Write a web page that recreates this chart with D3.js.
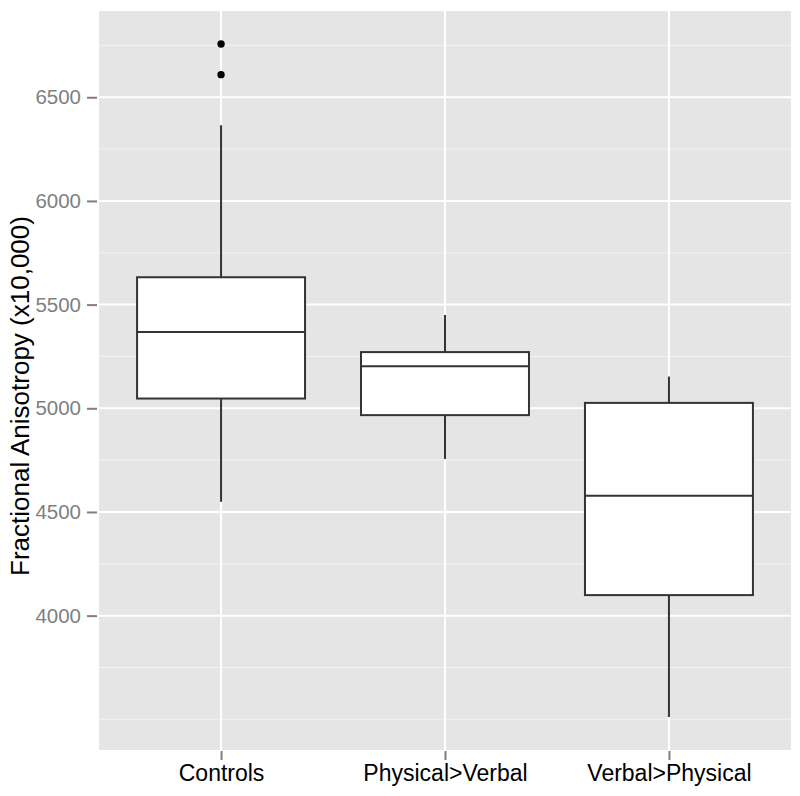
<!DOCTYPE html>
<html>
<head>
<meta charset="utf-8">
<script src="https://cdn.jsdelivr.net/npm/d3@7"></script>
<style>
  body { margin: 0; background: #fff; }
  text { font-family: "Liberation Sans", Arial, Helvetica, sans-serif; }
</style>
</head>
<body>
<svg id="chart"></svg>
<script>
const width = 800;
const height = 796;

// data
const groups = ['Controls', 'Physical>Verbal', 'Verbal>Physical'];
const whiskerLow = [4549, 4756, 3511];
const q1 = [5047, 4967, 4099];
const medians = [5368, 5203, 4578];
const q3 = [5632, 5271, 5026];
const whiskerHigh = [6365, 5450, 5153];
const outliers = [
  {group: 'Controls', value: 6609},
  {group: 'Controls', value: 6757}
];
const majorTicks = [4000, 4500, 5000, 5500, 6000, 6500];
const minorTicks = [3500, 3750, 4250, 4750, 5250, 5750, 6250, 6750];

const boxes = groups.map((g, i) => ({
  group: g,
  lo: whiskerLow[i], q1: q1[i], med: medians[i], q3: q3[i], hi: whiskerHigh[i]
}));

const margin = {top: 11, right: 9, bottom: 46, left: 99};
const innerW = width - margin.left - margin.right;
const innerH = height - margin.top - margin.bottom;

const svg = d3.select('#chart')
  .attr('width', width)
  .attr('height', height);

const g = svg.append('g')
  .attr('transform', `translate(${margin.left},${margin.top})`);

const x = d3.scalePoint()
  .domain(groups)
  .range([0, innerW])
  .padding(0.545);

const y = d3.scaleLinear()
  .domain([3352, 6916])
  .range([innerH, 0]);

const boxW = x.step() * 0.75;

// panel background
g.append('rect')
  .attr('width', innerW)
  .attr('height', innerH)
  .attr('fill', '#e5e5e5');

// minor grid
g.selectAll('.minor')
  .data(minorTicks)
  .enter()
  .append('line')
    .attr('x1', 0).attr('x2', innerW)
    .attr('y1', d => y(d)).attr('y2', d => y(d))
    .attr('stroke', '#f2f2f2')
    .attr('stroke-width', 1);

// major grid
g.selectAll('.major')
  .data(majorTicks)
  .enter()
  .append('line')
    .attr('x1', 0).attr('x2', innerW)
    .attr('y1', d => y(d)).attr('y2', d => y(d))
    .attr('stroke', '#fff')
    .attr('stroke-width', 2);

g.selectAll('.vgrid')
  .data(groups)
  .enter()
  .append('line')
    .attr('x1', d => x(d)).attr('x2', d => x(d))
    .attr('y1', 0).attr('y2', innerH)
    .attr('stroke', '#fff')
    .attr('stroke-width', 2);

// boxes and whiskers
const bg = g.selectAll('.box')
  .data(boxes)
  .enter()
  .append('g');

bg.append('line')
  .attr('x1', d => x(d.group)).attr('x2', d => x(d.group))
  .attr('y1', d => y(d.hi)).attr('y2', d => y(d.q3))
  .attr('stroke', '#333').attr('stroke-width', 2);

bg.append('line')
  .attr('x1', d => x(d.group)).attr('x2', d => x(d.group))
  .attr('y1', d => y(d.q1)).attr('y2', d => y(d.lo))
  .attr('stroke', '#333').attr('stroke-width', 2);

bg.append('rect')
  .attr('x', d => x(d.group) - boxW / 2)
  .attr('y', d => y(d.q3))
  .attr('width', boxW)
  .attr('height', d => y(d.q1) - y(d.q3))
  .attr('fill', '#fff')
  .attr('stroke', '#333')
  .attr('stroke-width', 2);

bg.append('line')
  .attr('x1', d => x(d.group) - boxW / 2).attr('x2', d => x(d.group) + boxW / 2)
  .attr('y1', d => y(d.med)).attr('y2', d => y(d.med))
  .attr('stroke', '#333').attr('stroke-width', 2);

// outliers
g.selectAll('.outlier')
  .data(outliers)
  .enter()
  .append('circle')
    .attr('cx', d => x(d.group))
    .attr('cy', d => y(d.value))
    .attr('r', 3.7)
    .attr('fill', '#000');

// axes
const yAxis = g.append('g')
  .call(d3.axisLeft(y).tickValues(majorTicks).tickSize(10).tickPadding(6).tickFormat(d3.format('d')));
yAxis.select('.domain').remove();
yAxis.selectAll('.tick line').attr('stroke', '#7f7f7f').attr('stroke-width', 2).attr('x2', -2).attr('x1', -12);
yAxis.selectAll('.tick text')
  .attr('x', -18)
  .attr('fill', '#7f7f7f')
  .attr('font-size', 20.5)
  .attr('font-family', '"Liberation Sans", Arial, Helvetica, sans-serif');

const xAxis = g.append('g')
  .attr('transform', `translate(0,${innerH})`)
  .call(d3.axisBottom(x).tickSize(10).tickPadding(4));
xAxis.select('.domain').remove();
xAxis.selectAll('.tick line').attr('stroke', '#7f7f7f').attr('stroke-width', 2).attr('y1', 1).attr('y2', 10);
xAxis.selectAll('.tick text')
  .attr('y', 31)
  .attr('dy', null)
  .attr('fill', '#000')
  .attr('font-size', 23)
  .attr('font-family', '"Liberation Sans", Arial, Helvetica, sans-serif');

// y title
svg.append('text')
  .attr('transform', `translate(29,396) rotate(-90)`)
  .attr('text-anchor', 'middle')
  .attr('font-size', 26)
  .attr('fill', '#000')
  .text('Fractional Anisotropy (x10,000)');
</script>
</body>
</html>
